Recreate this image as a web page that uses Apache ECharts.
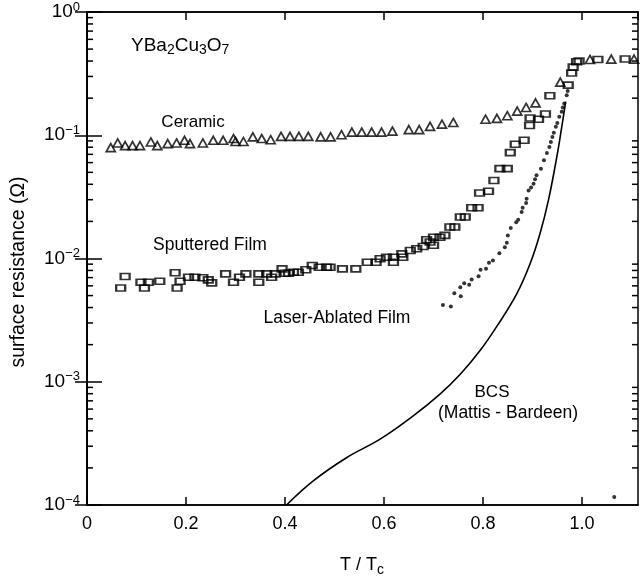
<!DOCTYPE html>
<html>
<head>
<meta charset="utf-8">
<script src="https://cdn.jsdelivr.net/npm/echarts@6/dist/echarts.min.js"></script>
<style>html,body{margin:0;padding:0;background:#fff;}#c{width:641px;height:584px;}</style>
</head>
<body>
<div id="c"></div>
<script>
// ---- data ----
const ceramicT = [0.048,0.062,0.077,0.092,0.107,0.129,0.142,0.163,0.181,0.197,0.208,0.234,0.255,0.275,0.296,0.300,0.316,0.335,0.353,0.371,0.392,0.410,0.428,0.447,0.472,0.492,0.514,0.535,0.555,0.575,0.595,0.617,0.650,0.671,0.693,0.717,0.740,0.805,0.828,0.849,0.869,0.887,0.906,0.956,1.016,1.059,1.105];
const ceramicR = [0.0794,0.0866,0.0824,0.0824,0.0824,0.0882,0.0824,0.0855,0.0866,0.091,0.0855,0.0866,0.091,0.091,0.094,0.089,0.089,0.097,0.094,0.092,0.098,0.098,0.098,0.098,0.097,0.097,0.101,0.106,0.106,0.106,0.106,0.108,0.111,0.111,0.118,0.123,0.127,0.135,0.137,0.144,0.157,0.168,0.183,0.27,0.412,0.415,0.415];

const sputT = [0.068,0.077,0.109,0.116,0.124,0.147,0.178,0.182,0.188,0.205,0.218,0.234,0.245,0.252,0.280,0.296,0.308,0.321,0.347,0.347,0.363,0.373,0.380,0.394,0.400,0.407,0.417,0.427,0.442,0.455,0.469,0.484,0.491,0.516,0.543,0.566,0.584,0.592,0.605,0.619,0.619,0.636,0.638,0.653,0.666,0.679,0.686,0.693,0.700,0.700,0.713,0.723,0.733,0.743,0.754,0.764,0.777,0.790,0.793,0.811,0.822,0.834,0.849,0.855,0.865,0.883,0.894,0.895,0.912,0.926,0.935,0.972,0.979,0.982,0.989,0.994,1.032,1.087];
const sputR = [0.00577,0.00714,0.00642,0.00577,0.00642,0.00654,0.00765,0.00577,0.00654,0.00705,0.00705,0.00697,0.00671,0.00634,0.0075,0.00642,0.00705,0.0075,0.0075,0.00642,0.0075,0.00705,0.0075,0.00824,0.0076,0.0076,0.00774,0.00774,0.00809,0.00877,0.0085,0.0085,0.0085,0.00824,0.00824,0.00933,0.00933,0.00994,0.01025,0.01025,0.00933,0.0109,0.01025,0.0116,0.0120,0.0125,0.0142,0.0136,0.0149,0.0128,0.0149,0.0154,0.0180,0.0180,0.0217,0.0217,0.0258,0.0258,0.034,0.0351,0.043,0.0536,0.0536,0.0723,0.0845,0.091,0.120,0.138,0.135,0.149,0.209,0.255,0.32,0.357,0.395,0.400,0.412,0.415];

const laserT = [0.719,0.735,0.742,0.754,0.755,0.762,0.772,0.777,0.791,0.795,0.806,0.812,0.820,0.833,0.844,0.848,0.850,0.856,0.867,0.871,0.878,0.880,0.887,0.888,0.892,0.897,0.902,0.905,0.908,0.917,0.923,0.929,0.934,0.937,0.940,0.943,0.947,0.950,0.954,0.959,0.961,0.964,0.969,0.971,1.065];
const laserR = [0.0042,0.00407,0.00522,0.00585,0.00494,0.0063,0.00611,0.00675,0.00718,0.00809,0.00824,0.00922,0.00963,0.01104,0.01236,0.0134,0.0154,0.0177,0.0197,0.0206,0.0238,0.0258,0.0282,0.0306,0.0357,0.0376,0.0405,0.0439,0.0473,0.0536,0.0626,0.0718,0.0804,0.0882,0.0969,0.105,0.117,0.126,0.141,0.155,0.168,0.181,0.211,0.229,0.000116];

const bcsT = [0.403,0.457,0.525,0.592,0.659,0.713,0.754,0.794,0.830,0.868,0.895,0.915,0.932,0.949,0.959,0.967];
const bcsR = [1.0e-4,1.57e-4,2.43e-4,3.42e-4,5.29e-4,7.94e-4,1.15e-3,1.79e-3,2.9e-3,5.16e-3,9.06e-3,0.0159,0.0296,0.0667,0.117,0.187];

const xTickLabels = ['0','0.2','0.4','0.6','0.8','1.0'];
const yDecades = [-4,-3,-2,-1,0];
const minorMultipliers = [2,3,4,5,6,7,8,9];

// ---- layout ----
const X_MIN = 0, X_MAX = 1.113;
const FONT = '"Liberation Sans", Arial, sans-serif';
const zip = (a,b) => a.map((v,i)=>[v,b[i]]);

const minorVals = [];
yDecades.slice(0,-1).forEach(e => minorMultipliers.forEach(m => minorVals.push([X_MIN, m*Math.pow(10,e)])));

const chart = echarts.init(document.getElementById('c'), null, {renderer:'canvas'});
const option = {
  backgroundColor:'#fff',
  animation:false,
  grid:{left:87,right:3,top:12,bottom:79,show:true,borderColor:'#000',borderWidth:1.5,backgroundColor:'transparent'},
  xAxis:[{
    type:'value',min:X_MIN,max:X_MAX,interval:0.2,
    axisLine:{show:true,lineStyle:{color:'#000',width:1.5}},
    axisTick:{show:true,inside:true,length:8,lineStyle:{color:'#000',width:1.5}},
    splitLine:{show:false},
    axisLabel:{show:true,showMaxLabel:false,margin:10,color:'#000',fontSize:18,fontFamily:FONT,
      formatter:v=>{const i=Math.round(v/0.2); return Math.abs(v-i*0.2)<1e-6 && i<xTickLabels.length ? xTickLabels[i] : '';}}
  },{
    type:'value',position:'top',min:X_MIN,max:X_MAX,interval:0.2,
    axisLine:{show:true,lineStyle:{color:'#000',width:1.5}},
    axisTick:{show:true,inside:true,length:8,lineStyle:{color:'#000',width:1.5}},
    splitLine:{show:false},axisLabel:{show:false}
  }],
  yAxis:[{
    type:'log',logBase:10,min:1e-4,max:1,
    axisLine:{show:true,lineStyle:{color:'#000',width:1.5}},
    axisTick:{show:true,inside:true,length:15,lineStyle:{color:'#000',width:1.5}},
    splitLine:{show:false},
    axisLabel:{color:'#000',margin:7,fontFamily:FONT,
      formatter:v=>{const e=Math.round(Math.log10(v)); return '{b|10}{s|'+(e===0?'0':'\u2212'+(-e))+'}';},
      rich:{b:{fontSize:19,fontFamily:FONT,color:'#000'},s:{fontSize:13,fontFamily:FONT,color:'#000',padding:[0,0,10,0]}}}
  },{
    type:'log',logBase:10,min:1e-4,max:1,position:'right',
    axisLine:{show:true,lineStyle:{color:'#000',width:1.5}},
    axisTick:{show:true,inside:true,length:12,lineStyle:{color:'#000',width:1.5}},
    splitLine:{show:false},axisLabel:{show:false}
  }],
  series:[
    {name:'minorTicks',type:'custom',xAxisIndex:0,yAxisIndex:0,silent:true,data:minorVals,
      renderItem:(params,api)=>{
        const v=api.value(1);
        const pL=api.coord([X_MIN,v]), pR=api.coord([X_MAX,v]);
        return {type:'group',children:[
          {type:'line',shape:{x1:pL[0],y1:pL[1],x2:pL[0]+6,y2:pL[1]},style:{stroke:'#000',lineWidth:1.5}},
          {type:'line',shape:{x1:pR[0],y1:pR[1],x2:pR[0]-6,y2:pR[1]},style:{stroke:'#000',lineWidth:1.5}}
        ]};
      }},
    {name:'BCS',type:'line',data:zip(bcsT,bcsR),smooth:0.4,showSymbol:false,symbol:'none',
      lineStyle:{color:'#000',width:1.6}},
    {name:'Ceramic',type:'scatter',data:zip(ceramicT,ceramicR),symbol:'triangle',symbolSize:[9,8],
      itemStyle:{color:'rgba(255,255,255,0)',borderColor:'#000',borderWidth:1.7}},
    {name:'Sputtered Film',type:'scatter',data:zip(sputT,sputR),symbol:'rect',symbolSize:[9,6],
      itemStyle:{color:'rgba(255,255,255,0)',borderColor:'#000',borderWidth:1.9}},
    {name:'Laser-Ablated Film',type:'scatter',data:zip(laserT,laserR),symbol:'circle',symbolSize:4,
      itemStyle:{color:'#000'}}
  ],
  graphic:[
    {type:'text',left:131,top:36,style:{text:'YBa{s|2}Cu{s|3}O{s|7}',fill:'#000',font:'19px '+FONT,
      rich:{s:{fontSize:14,fontFamily:FONT,fill:'#000',padding:[9,0,0,0]}}}},
    {type:'text',x:193,y:122,style:{text:'Ceramic',fill:'#000',font:'17px '+FONT,align:'center',verticalAlign:'middle'}},
    {type:'text',x:210,y:245,style:{text:'Sputtered Film',fill:'#000',font:'17.5px '+FONT,align:'center',verticalAlign:'middle'}},
    {type:'text',x:337,y:318,style:{text:'Laser-Ablated Film',fill:'#000',font:'17.5px '+FONT,align:'center',verticalAlign:'middle'}},
    {type:'text',x:492,y:392,style:{text:'BCS',fill:'#000',font:'17px '+FONT,align:'center',verticalAlign:'middle'}},
    {type:'text',x:508,y:413,style:{text:'(Mattis - Bardeen)',fill:'#000',font:'17.5px '+FONT,align:'center',verticalAlign:'middle'}},
    {type:'text',x:19,y:272,rotation:Math.PI/2,style:{text:'surface resistance (\u03A9)',fill:'#000',font:'19.5px '+FONT,align:'center',verticalAlign:'middle'}},
    {type:'text',x:362,y:565,style:{text:'T / T{s|c}',fill:'#000',font:'18px '+FONT,align:'center',verticalAlign:'middle',
      rich:{s:{fontSize:14,fontFamily:FONT,fill:'#000',padding:[10,0,0,0]}}}}
  ]
};
chart.setOption(option);
</script>
</body>
</html>
